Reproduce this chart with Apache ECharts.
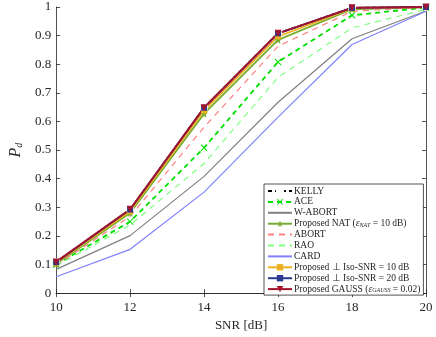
<!DOCTYPE html>
<html><head><meta charset="utf-8">
<script src="https://cdn.jsdelivr.net/npm/echarts@6/dist/echarts.min.js"></script>
<style>html,body{margin:0;padding:0;background:#fff}#c{width:436px;height:337px}</style>
</head><body><div id="c"></div>
<script>
const snr = [10, 12, 14, 16, 18, 20];
const kelly  = [0.108, 0.292, 0.648, 0.908, 0.997, 1.000];
const ace    = [0.100, 0.250, 0.508, 0.808, 0.971, 0.998];
const wabort = [0.083, 0.201, 0.408, 0.667, 0.889, 0.986];
const nat    = [0.102, 0.280, 0.627, 0.885, 0.992, 1.000];
const abort  = [0.098, 0.268, 0.580, 0.863, 0.985, 1.000];
const rao    = [0.095, 0.238, 0.453, 0.754, 0.927, 0.992];
const card   = [0.057, 0.153, 0.353, 0.615, 0.869, 0.985];
const iso10  = [0.105, 0.286, 0.638, 0.897, 0.995, 1.000];
const iso20  = [0.108, 0.292, 0.648, 0.908, 0.997, 1.000];
const gauss  = [0.109, 0.293, 0.648, 0.908, 0.997, 1.000];
const yTicks = ['0','0.1','0.2','0.3','0.4','0.5','0.6','0.7','0.8','0.9','1'];

const FONT = 'Liberation Serif';
const pts = a => a.map((v,i)=>[snr[i], v]);
const X = 'path://M1,0L5,4L9,0L10,1L6,5L10,9L9,10L5,6L1,10L0,9L4,5L0,1Z';
const STAR = 'path://M5,0L6.2,3.3L9.8,3.4L7,5.6L8,9L5,7L2,9L3,5.6L0.2,3.4L3.8,3.3Z';

function mk(name, data, color, opt) {
  return Object.assign({
    name, type:'line', data: pts(data), color,
    lineStyle:{color, width:1, type:'solid'},
    symbol:'none', symbolSize:6, showSymbol:true,
    itemStyle:{color, opacity:0}, animation:false, z:2
  }, opt||{});
}
const series = [
  mk('KELLY', kelly, '#000000', {lineStyle:{color:'#000', width:1.8, type:[4,3]}, symbol:'emptyCircle', symbolSize:6, itemStyle:{color:'#fff', borderColor:'#000', borderWidth:1.5}}),
  mk('ACE', ace, '#00e000', {lineStyle:{color:'#00e000', width:1.8, type:[5,4]}, symbol:X, symbolSize:7, itemStyle:{color:'#00e000'}}),
  mk('W-ABORT', wabort, '#808080', {lineStyle:{color:'#808080', width:1.2}}),
  mk('NAT', nat, '#77ac30', {lineStyle:{color:'#77ac30', width:1.8}, symbol:STAR, symbolSize:8, itemStyle:{color:'#77ac30'}}),
  mk('ABORT', abort, '#ff8080', {lineStyle:{color:'#ff8080', width:1.2, type:[6,5]}}),
  mk('RAO', rao, '#80ff80', {lineStyle:{color:'#80ff80', width:1.2, type:[6,5]}}),
  mk('CARD', card, '#8080ff', {lineStyle:{color:'#8080ff', width:1.2}}),
  mk('ISO10', iso10, '#edb120', {lineStyle:{color:'#edb120', width:1.8}, symbol:'rect', symbolSize:6, itemStyle:{color:'#edb120'}}),
  mk('ISO20', iso20, '#2b3990', {lineStyle:{color:'#2b3990', width:1.8}, symbol:'rect', symbolSize:6, itemStyle:{color:'#2b3990'}}),
  mk('GAUSS', gauss, '#a2142f', {lineStyle:{color:'#a2142f', width:2}, symbol:'triangle', symbolRotate:180, symbolSize:7, itemStyle:{color:'#a2142f'}})
];
const labels = {
  'KELLY':'KELLY', 'ACE':'ACE', 'W-ABORT':'W-ABORT',
  'NAT':'Proposed NAT ({i|ε}{sub|NAT} = 10 dB)',
  'ABORT':'ABORT', 'RAO':'RAO', 'CARD':'CARD',
  'ISO10':'Proposed ⊥ Iso-SNR = 10 dB',
  'ISO20':'Proposed ⊥ Iso-SNR = 20 dB',
  'GAUSS':'Proposed GAUSS ({i|ε}{sub|GAUSS} = 0.02)'
};
const axisCommon = {
  axisLine:{show:true, lineStyle:{color:'#262626', width:0.8}},
  axisTick:{show:true, inside:true, length:4, lineStyle:{color:'#262626', width:0.8}},
  splitLine:{show:false}
};
const chart = echarts.init(document.getElementById('c'), null, {renderer:'canvas'});
chart.setOption({
  backgroundColor:'#fff',
  animation:false,
  grid:{left:43, right:10, top:7, bottom:41, containLabel:false},
  xAxis:[
    Object.assign({type:'value', min:10, max:20, interval:2, name:'SNR [dB]', nameLocation:'middle', nameGap:24,
      nameTextStyle:{fontFamily:FONT, fontSize:13, color:'#262626'},
      axisLabel:{fontFamily:FONT, fontSize:13, color:'#262626', margin:8}}, axisCommon),
    Object.assign({type:'value', min:10, max:20, interval:2, position:'top', axisLabel:{show:false}}, axisCommon)
  ],
  yAxis:[
    Object.assign({type:'value', min:0, max:1, interval:0.1, name:'{i|P}{sub|d}', nameLocation:'middle', nameGap:31,
      nameTextStyle:{fontFamily:FONT, fontSize:15, color:'#262626', rich:{i:{fontFamily:FONT, fontStyle:'italic', fontSize:16}, sub:{fontFamily:FONT, fontStyle:'italic', fontSize:10, padding:[6,0,0,0]}}},
      axisLabel:{fontFamily:FONT, fontSize:13, color:'#262626', margin:5, formatter:(v)=>yTicks[Math.round(v*10)]}}, axisCommon),
    Object.assign({type:'value', min:0, max:1, interval:0.1, position:'right', axisLabel:{show:false}}, axisCommon)
  ],
  legend:{
    orient:'vertical', left:264, top:184, width:160,
    backgroundColor:'#fff', borderColor:'#262626', borderWidth:0.8, borderRadius:0,
    padding:[2,3,1,3], itemWidth:24, itemHeight:8, itemGap:0.9,
    data: series.map(s=>s.name),
    formatter: n => labels[n],
    textStyle:{fontFamily:FONT, fontSize:9.5, lineHeight:8, color:'#262626', padding:[0,0,0,-3],
      rich:{i:{fontFamily:FONT, fontStyle:'italic', fontSize:9.5, lineHeight:8, color:'#262626'}, sub:{fontFamily:FONT, fontStyle:'italic', fontSize:6, lineHeight:8, color:'#262626', padding:[3,0,0,0]}}}
  },
  series
});
</script></body></html>
